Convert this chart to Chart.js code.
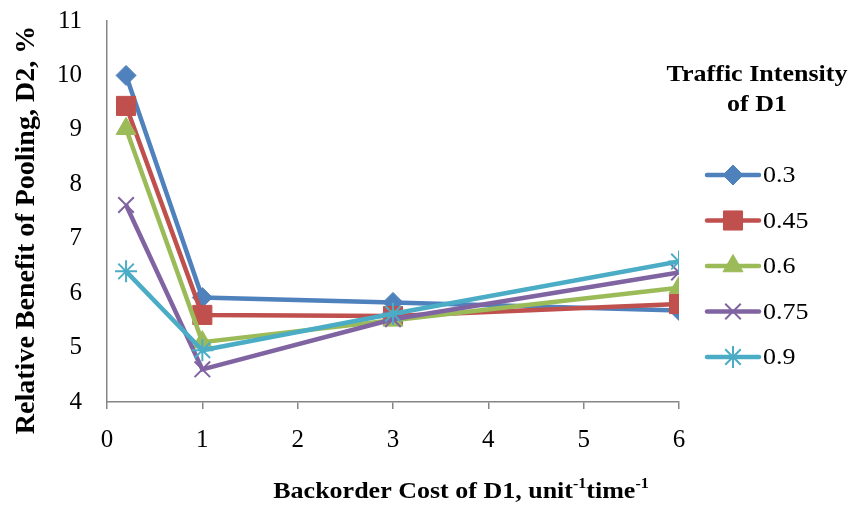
<!DOCTYPE html>
<html>
<head>
<meta charset="utf-8">
<script src="https://cdn.jsdelivr.net/npm/chart.js@4"></script>
<style>
    html, body { margin: 0; padding: 0; background: #fff; }
    #wrap { width: 852px; height: 507px; }
</style>
</head>
<body>
<div id="wrap"><canvas id="poolingChart" width="852" height="507"></canvas></div>
<script>
// Data
const backorderCost = [0.2, 1, 3, 6];
const seriesNames = ["0.3", "0.45", "0.6", "0.75", "0.9"];
const benefit03 = [10.0, 5.92, 5.83, 5.68];
const benefit045 = [9.44, 5.6, 5.58, 5.8];
const benefit06 = [9.02, 5.1, 5.5, 6.1];
const benefit075 = [7.62, 4.6, 5.52, 6.38];
const benefit09 = [6.4, 4.95, 5.62, 6.58];
const xTicks = [0, 1, 2, 3, 4, 5, 6];
const yTicks = [4, 5, 6, 7, 8, 9, 10, 11];

const seriesValues = [benefit03, benefit045, benefit06, benefit075, benefit09];
const colors = ["#4F81BD", "#C0504D", "#9BBB59", "#8064A2", "#4BACC6"];
const markers = ["rectRot", "rect", "triangle", "crossRot", "star"];
const markerSize = [10, 13.5, 11.5, 11, 11];

const serif = "'Liberation Serif', 'Times New Roman', serif";
const axisGray = "#868686";

const datasets = seriesValues.map((vals, i) => ({
    label: seriesNames[i],
    data: vals.map((v, j) => ({ x: backorderCost[j], y: v })),
    showLine: true,
    borderColor: colors[i],
    backgroundColor: colors[i],
    borderWidth: 4.5,
    pointStyle: markers[i],
    pointRadius: markerSize[i],
    pointHoverRadius: markerSize[i],
    pointBorderColor: colors[i],
    pointBackgroundColor: colors[i],
    pointBorderWidth: (markers[i] === "crossRot" || markers[i] === "star") ? 2 : 1,
    order: seriesValues.length - i // later series drawn on top, like Excel
}));

// text squeezed a bit vertically, the reference picture is stretched sideways
function squashedText(ctx, text, x, y, sy) {
    ctx.save();
    ctx.translate(x, y);
    ctx.scale(1, sy);
    ctx.fillText(text, 0, 0);
    ctx.restore();
}

// Legend + axis titles drawn by hand (superscripts, off-centre placement)
const extrasPlugin = {
    id: "extras",
    afterDraw(chart) {
        const ctx = chart.ctx;
        ctx.save();
        ctx.fillStyle = "#000";
        ctx.textBaseline = "middle";

        // legend title
        ctx.font = "bold 26px " + serif;
        ctx.textAlign = "center";
        squashedText(ctx, "Traffic Intensity", 757, 75, 0.9);
        squashedText(ctx, "of D1", 757, 105, 0.9);

        // legend items
        chart.data.datasets.forEach((ds, i) => {
            const y = 175 + i * 45.5;
            ctx.strokeStyle = ds.borderColor;
            ctx.lineWidth = 4.5;
            ctx.lineCap = "round";
            ctx.beginPath();
            ctx.moveTo(707, y);
            ctx.lineTo(759, y);
            ctx.stroke();
            ctx.lineCap = "butt";
            ctx.fillStyle = ds.pointBackgroundColor;
            ctx.lineWidth = ds.pointBorderWidth;
            Chart.helpers.drawPoint(ctx, {
                pointStyle: ds.pointStyle,
                radius: ds.pointRadius,
                borderWidth: ds.pointBorderWidth,
                rotation: 0
            }, 733, y);
            ctx.fillStyle = "#000";
            ctx.font = "26px " + serif;
            ctx.textAlign = "left";
            squashedText(ctx, ds.label, 763, y + 1, 0.9);
        });

        // x axis title with superscripts
        const parts = [
            ["Backorder Cost of D1, unit", false],
            ["-1", true],
            ["time", false],
            ["-1", true]
        ];
        const bigFont = "bold 26px " + serif;
        const supFont = "bold 16px " + serif;
        let total = 0;
        parts.forEach(p => {
            ctx.font = p[1] ? supFont : bigFont;
            total += ctx.measureText(p[0]).width;
        });
        let x = 461 - total / 2;
        ctx.textAlign = "left";
        ctx.textBaseline = "alphabetic";
        parts.forEach(p => {
            ctx.font = p[1] ? supFont : bigFont;
            squashedText(ctx, p[0], x, p[1] ? 488 : 498, 0.9);
            x += ctx.measureText(p[0]).width;
        });

        // y axis title (rotated)
        ctx.translate(27, 230);
        ctx.rotate(-Math.PI / 2);
        ctx.font = "bold 28px " + serif;
        ctx.textAlign = "center";
        ctx.textBaseline = "middle";
        ctx.fillText("Relative Benefit of Pooling, D2, %", 0, 0);
        ctx.restore();
    }
};

const ctx = document.getElementById("poolingChart").getContext("2d");
new Chart(ctx, {
    type: "scatter",
    data: { datasets: datasets },
    plugins: [extrasPlugin],
    options: {
        responsive: false,
        animation: false,
        layout: { padding: { left: 0, top: 21, right: 173, bottom: 0 } },
        plugins: {
            legend: { display: false },
            tooltip: { enabled: false }
        },
        scales: {
            x: {
                type: "linear",
                min: xTicks[0],
                max: xTicks[xTicks.length - 1],
                afterBuildTicks: s => { s.ticks = xTicks.map(v => ({ value: v })); },
                afterFit: s => { s.height = 105; s.paddingLeft = 0; s.paddingRight = 0; },
                grid: { drawOnChartArea: false, drawTicks: true, tickLength: 7, color: axisGray, lineWidth: 1.5 },
                border: { color: axisGray, width: 1.5 },
                ticks: { color: "#000", padding: 16, font: { family: serif, size: 25 } }
            },
            y: {
                type: "linear",
                min: yTicks[0],
                max: yTicks[yTicks.length - 1],
                afterBuildTicks: s => { s.ticks = yTicks.map(v => ({ value: v })); },
                afterFit: s => { s.width = 107; s.paddingTop = 0; s.paddingBottom = 0; },
                grid: { drawOnChartArea: false, drawTicks: false },
                border: { color: axisGray, width: 1.5 },
                ticks: { color: "#000", padding: 25, font: { family: serif, size: 25 } }
            }
        }
    }
});
</script>
</body>
</html>
